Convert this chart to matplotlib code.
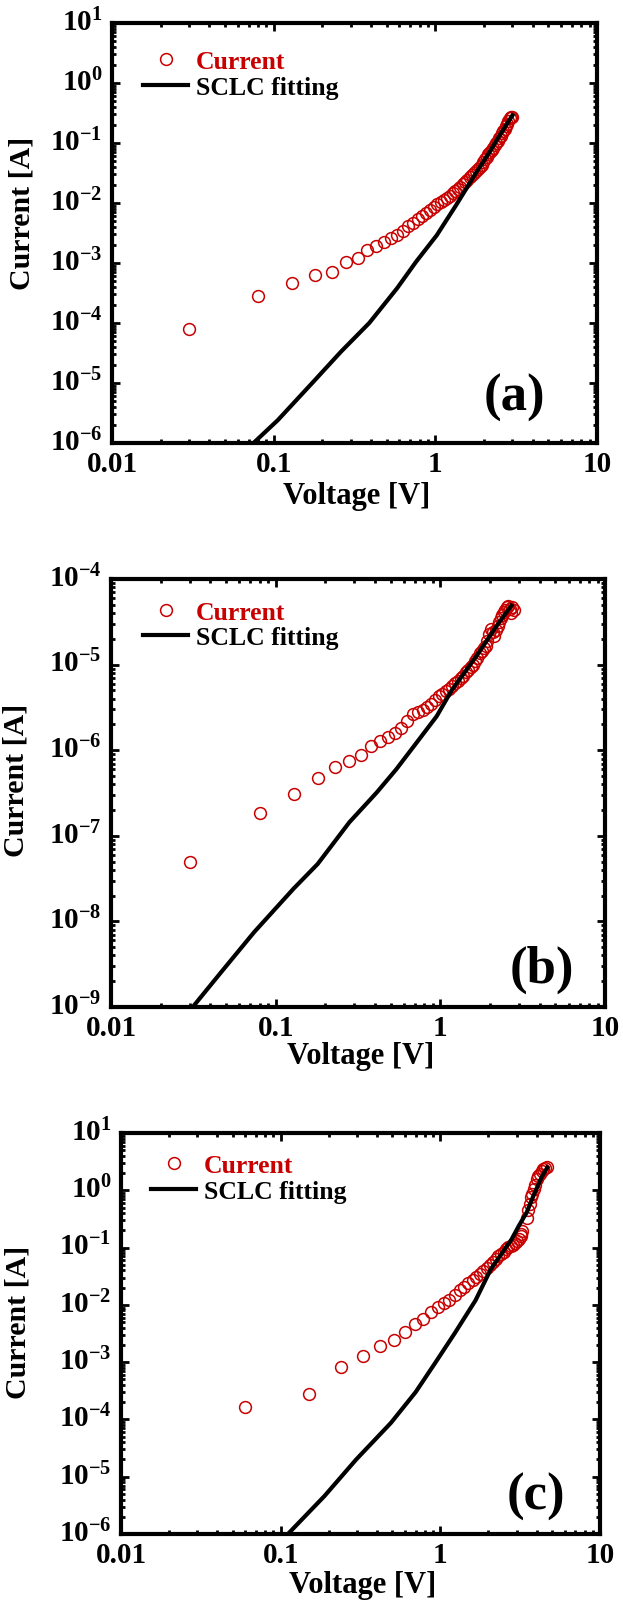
import matplotlib
matplotlib.use("Agg")
import matplotlib.pyplot as plt
from matplotlib.ticker import LogLocator, FuncFormatter, NullFormatter
from matplotlib.transforms import ScaledTranslation

plt.rcParams['font.family'] = ['Liberation Serif', 'DejaVu Serif']
plt.rcParams['font.weight'] = 'bold'
plt.rcParams['mathtext.fontset'] = 'custom'
plt.rcParams['mathtext.rm'] = 'Liberation Serif:bold'
plt.rcParams['mathtext.bf'] = 'Liberation Serif:bold'
plt.rcParams['mathtext.it'] = 'Liberation Serif:bold:italic'
plt.rcParams['axes.unicode_minus'] = False

RED = '#c80000'

# ---- panel (a) ----
a_volt = [0.03, 0.08, 0.13, 0.18, 0.23, 0.28, 0.33, 0.38, 0.43, 0.48,
          0.53, 0.58, 0.63, 0.68, 0.73, 0.78, 0.83, 0.88, 0.93, 0.98,
          1.03, 1.08, 1.13, 1.18, 1.23, 1.28, 1.33, 1.38, 1.43, 1.48,
          1.53, 1.58, 1.63, 1.68, 1.73, 1.78, 1.83, 1.88, 1.93, 1.98,
          2.03, 2.08, 2.13, 2.18, 2.23, 2.28, 2.33, 2.38, 2.43, 2.48,
          2.53, 2.58, 2.63, 2.68, 2.73, 2.78, 2.83, 2.88, 2.93, 2.98]
a_curr = [7.9e-5, 2.8e-4, 4.7e-4, 6.2e-4, 7.2e-4, 1.05e-3, 1.23e-3, 1.62e-3, 1.95e-3, 2.24e-3,
          2.57e-3, 2.88e-3, 3.47e-3, 4.07e-3, 4.68e-3, 5.37e-3, 6.17e-3, 6.92e-3, 7.59e-3, 8.51e-3,
          9.55e-3, 1.05e-2, 1.12e-2, 1.23e-2, 1.32e-2, 1.45e-2, 1.58e-2, 1.74e-2, 1.86e-2, 2.04e-2,
          2.24e-2, 2.45e-2, 2.69e-2, 2.88e-2, 3.16e-2, 3.39e-2, 3.72e-2, 3.98e-2, 4.37e-2, 4.90e-2,
          5.37e-2, 5.89e-2, 6.46e-2, 7.08e-2, 7.59e-2, 8.32e-2, 9.12e-2, 0.100, 0.110, 0.120,
          0.132, 0.145, 0.158, 0.174, 0.191, 0.209, 0.234, 0.263, 0.269, 0.269]
a_fit_volt = [0.072, 0.075, 0.106, 0.176, 0.26, 0.39, 0.58, 0.76, 1.02, 1.34, 1.8, 2.1, 2.5, 3.0]
a_fit_curr = [9e-7, 1e-6, 2.4e-6, 1.05e-5, 3.3e-5, 1.0e-4, 3.8e-4, 1.05e-3, 2.9e-3, 9.1e-3,
              3.3e-2, 6.2e-2, 0.134, 0.29]

# ---- panel (b) ----
b_volt = [0.03, 0.08, 0.13, 0.18, 0.23, 0.28, 0.33, 0.38, 0.43, 0.48,
          0.53, 0.58, 0.63, 0.68, 0.73, 0.78, 0.83, 0.88, 0.93, 0.98,
          1.03, 1.08, 1.13, 1.18, 1.23, 1.28, 1.33, 1.38, 1.43, 1.48,
          1.53, 1.58, 1.63, 1.68, 1.73, 1.78, 1.83, 1.88, 1.93, 1.98,
          2.03, 2.08, 2.13, 2.18, 2.23, 2.28, 2.33, 2.38, 2.43, 2.48,
          2.53, 2.58, 2.63, 2.68, 2.73, 2.78]
b_curr = [4.9e-8, 1.86e-7, 3.09e-7, 4.79e-7, 6.31e-7, 7.59e-7, 8.91e-7, 1.12e-6, 1.29e-6, 1.41e-6,
          1.58e-6, 1.82e-6, 2.19e-6, 2.63e-6, 2.82e-6, 2.95e-6, 3.16e-6, 3.47e-6, 3.89e-6, 4.27e-6,
          4.57e-6, 4.90e-6, 5.25e-6, 5.62e-6, 6.03e-6, 6.46e-6, 6.92e-6, 7.41e-6, 8.13e-6, 8.71e-6,
          9.33e-6, 1.0e-5, 1.10e-5, 1.20e-5, 1.38e-5, 1.45e-5, 1.58e-5, 1.66e-5, 1.91e-5, 2.29e-5,
          2.63e-5, 2.40e-5, 2.19e-5, 2.51e-5, 2.82e-5, 3.16e-5, 3.55e-5, 3.80e-5, 4.17e-5, 4.37e-5,
          4.68e-5, 4.90e-5, 4.47e-5, 3.98e-5, 4.68e-5, 4.37e-5]
b_fit_volt = [0.031, 0.032, 0.047, 0.074, 0.128, 0.18, 0.28, 0.41, 0.54, 0.72, 0.95, 1.17,
              1.66, 2.2, 2.7]
b_fit_curr = [9.5e-10, 1.05e-9, 2.6e-9, 7.5e-9, 2.4e-8, 4.7e-8, 1.44e-7, 3.2e-7, 6e-7, 1.24e-6,
              2.5e-6, 5e-6, 1.27e-5, 2.85e-5, 4.9e-5]

# ---- panel (c) ----
c_volt = [0.06, 0.15, 0.24, 0.33, 0.42, 0.51, 0.60, 0.69, 0.78, 0.87,
          0.96, 1.05, 1.14, 1.23, 1.32, 1.41, 1.50, 1.59, 1.68, 1.77,
          1.86, 1.95, 2.04, 2.13, 2.22, 2.31, 2.40, 2.49, 2.58, 2.67,
          2.76, 2.85, 2.94, 3.03, 3.12, 3.18, 3.21, 3.24, 3.47, 3.56,
          3.63, 3.70, 3.76, 3.85, 3.92, 4.00, 4.10, 4.20, 4.31, 4.40,
          4.50, 4.63]
c_curr = [1.66e-4, 2.75e-4, 8.3e-4, 1.26e-3, 1.91e-3, 2.40e-3, 3.39e-3, 4.57e-3, 5.75e-3, 7.41e-3,
          9.12e-3, 1.07e-2, 1.23e-2, 1.51e-2, 1.82e-2, 2.04e-2, 2.40e-2, 2.69e-2, 3.09e-2, 3.47e-2,
          3.89e-2, 4.47e-2, 5.01e-2, 5.62e-2, 6.31e-2, 7.08e-2, 7.76e-2, 8.51e-2, 9.33e-2, 0.102,
          0.107, 0.112, 0.120, 0.132, 0.141, 0.158, 0.174, 0.195, 0.33, 0.45,
          0.57, 0.75, 0.86, 1.05, 1.25, 1.56, 1.75, 1.95, 2.19, 2.35,
          2.5, 2.6]
c_fit_volt = [0.108, 0.111, 0.188, 0.297, 0.49, 0.70, 0.93, 1.23, 1.66, 2.07, 2.79, 3.1,
              3.47, 3.9, 4.31, 4.67]
c_fit_curr = [9e-7, 1e-6, 4.6e-6, 2e-5, 8.7e-5, 3e-4, 9.8e-4, 3.2e-3, 1.2e-2, 4.2e-2, 0.139, 0.24,
              0.41, 0.91, 1.7, 2.5]


def draw_panel(ax, volt, curr, fit_volt, fit_curr, ylim, tag, tag_xy, leg_xy, ylab_xy, xlab_y):
    ax.plot(volt, curr, 'o', ms=8.5, mfc='none', mec=RED, mew=1.1, label='Current')
    ax.plot(fit_volt, fit_curr, '-', color='black', lw=3, label='SCLC fitting')
    ax.set_xscale('log')
    ax.set_yscale('log')
    ax.set_xlim(0.01, 10)
    ax.set_ylim(*ylim)

    ax.xaxis.set_major_locator(LogLocator(base=10, numticks=20))
    ax.xaxis.set_minor_locator(LogLocator(base=10, subs=range(2, 10), numticks=20))
    ax.yaxis.set_major_locator(LogLocator(base=10, numticks=20))
    ax.yaxis.set_minor_locator(LogLocator(base=10, subs=range(2, 10), numticks=20))
    ax.xaxis.set_major_formatter(FuncFormatter(lambda v, p: '%g' % v))
    ax.xaxis.set_minor_formatter(NullFormatter())
    ax.yaxis.set_minor_formatter(NullFormatter())

    ax.tick_params(which='both', direction='in', top=True, right=True, width=2)
    ax.tick_params(which='major', length=6, labelsize=21)
    ax.tick_params(which='minor', length=3)
    ax.tick_params(axis='x', which='major', pad=5)
    ax.tick_params(axis='y', which='major', pad=7)
    for s in ax.spines.values():
        s.set_linewidth(3)

    ax.set_xlabel('Voltage [V]', fontsize=22, fontweight='bold')
    ax.set_ylabel('Current [A]', fontsize=21.5, fontweight='bold')
    ax.xaxis.set_label_coords(0.505, xlab_y)
    ax.xaxis.label.set_va('center')
    ax.yaxis.set_label_coords(*ylab_xy)
    ax.yaxis.label.set_va('center')
    ax.yaxis.label.set_ha('center')

    ax.text(tag_xy[0], tag_xy[1], tag, transform=ax.transAxes, fontsize=38,
            fontweight='bold', ha='center', va='center')

    leg = ax.legend(loc='upper left', bbox_to_anchor=leg_xy, frameon=False,
                    fontsize=18.5, handlelength=1.76, handletextpad=0.3,
                    labelspacing=0.1, borderpad=0, borderaxespad=0)
    leg.get_texts()[0].set_color(RED)


fig = plt.figure(figsize=(6.23, 16.24), dpi=100)
ax_a = fig.add_axes([0.1798, 0.7266, 0.7785, 0.2586])
ax_b = fig.add_axes([0.1782, 0.3793, 0.7930, 0.2635])
ax_c = fig.add_axes([0.1942, 0.0548, 0.7690, 0.2469])

draw_panel(ax_a, a_volt, a_curr, a_fit_volt, a_fit_curr, (1e-6, 10), '(a)',
           (0.829, 0.11), (0.064, 0.935), (-0.186, 0.55), -0.126)
draw_panel(ax_b, b_volt, b_curr, b_fit_volt, b_fit_curr, (1e-9, 1e-4), '(b)',
           (0.872, 0.089), (0.065, 0.949), (-0.192, 0.533), -0.113)
draw_panel(ax_c, c_volt, c_curr, c_fit_volt, c_fit_curr, (1e-6, 10), '(c)',
           (0.866, 0.095), (0.063, 0.9475), (-0.215, 0.53), -0.125)

# lift the y tick labels a little, as in the original figure
fig.canvas.draw()
shift = ScaledTranslation(0, 3 / 72, fig.dpi_scale_trans)
for ax in (ax_a, ax_b, ax_c):
    for tick in ax.yaxis.get_major_ticks():
        tick.label1.set_transform(tick.label1.get_transform() + shift)

fig.savefig('out.png', dpi=100)
